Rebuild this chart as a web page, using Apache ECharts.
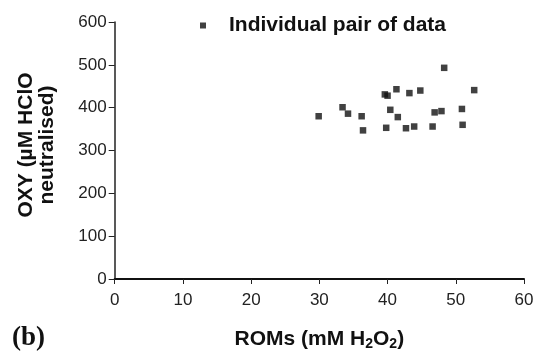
<!DOCTYPE html>
<html>
<head>
<meta charset="utf-8">
<script src="https://cdn.jsdelivr.net/npm/echarts@6/dist/echarts.min.js"></script>
<style>html,body{margin:0;padding:0;background:#fff}#c{width:540px;height:356px}</style>
</head>
<body>
<div id="c"></div>
<script>
const romsValues = [29.9, 33.4, 34.2, 36.2, 36.4, 39.6, 40.0, 41.3, 40.4, 39.8, 43.2, 41.5, 42.7, 43.9, 44.8, 46.6, 46.9, 47.9, 48.3, 50.9, 51.0, 52.7];
const oxyValues  = [380, 401, 386, 380, 347, 431, 428, 443, 395, 353, 434, 378, 352, 356, 440, 356, 389, 392, 493, 397, 360, 441];
const xTicks = [0, 10, 20, 30, 40, 50, 60];
const yTicks = [0, 100, 200, 300, 400, 500, 600];
const seriesName = 'Individual pair of data';

const points = romsValues.map((x, i) => [x, oxyValues[i]]);
const font = '"Liberation Sans", Arial, sans-serif';

const chart = echarts.init(document.getElementById('c'));
chart.setOption({
  animation: false,
  backgroundColor: '#fff',
  grid: { left: 114.7, right: 16, top: 22, bottom: 66.7 },
  legend: {
    left: 195, top: 10,
    icon: 'rect', itemWidth: 6, itemHeight: 6,
    textStyle: { fontFamily: font, fontWeight: 'bold', fontSize: 21, color: '#111', padding: [0, 0, 0, 18] },
    data: [seriesName]
  },
  xAxis: {
    type: 'value', min: xTicks[0], max: xTicks[xTicks.length - 1], interval: 10,
    splitLine: { show: false },
    axisLine: { lineStyle: { color: '#111', width: 2 } },
    axisTick: { length: 5, lineStyle: { color: '#222', width: 1 } },
    axisLabel: { fontFamily: font, fontSize: 17, color: '#222', margin: 13 },
    name: 'ROMs (mM H{s|2}O{s|2})',
    nameLocation: 'middle', nameGap: 48,
    nameTextStyle: {
      fontFamily: font, fontWeight: 'bold', fontSize: 21, color: '#111',
      rich: { s: { fontFamily: font, fontWeight: 'bold', fontSize: 14, color: '#111', verticalAlign: 'bottom', padding: [10, 0, 0, 0] } }
    }
  },
  yAxis: {
    type: 'value', min: yTicks[0], max: yTicks[yTicks.length - 1], interval: 100,
    splitLine: { show: false },
    axisLine: { lineStyle: { color: '#222', width: 1.5 } },
    axisTick: { length: 6, lineStyle: { color: '#222', width: 1 } },
    axisLabel: { fontFamily: font, fontSize: 17, color: '#222', margin: 8 },
    name: 'OXY (\u00b5M HClO\nneutralised)',
    nameLocation: 'middle', nameGap: 57, nameRotate: 90,
    nameTextStyle: { fontFamily: font, fontWeight: 'bold', fontSize: 21, color: '#111', lineHeight: 21, align: 'center', padding: [0, 0, 0, 11] }
  },
  graphic: [{
    type: 'text', left: 12, top: 325,
    style: { text: '(b)', font: 'bold 27px "Liberation Serif", "Times New Roman", serif', fill: '#111' }
  }],
  series: [{
    name: seriesName,
    type: 'scatter',
    symbol: 'rect', symbolSize: 6.5,
    itemStyle: { color: '#111' },
    data: points
  }]
});
</script>
</body>
</html>
